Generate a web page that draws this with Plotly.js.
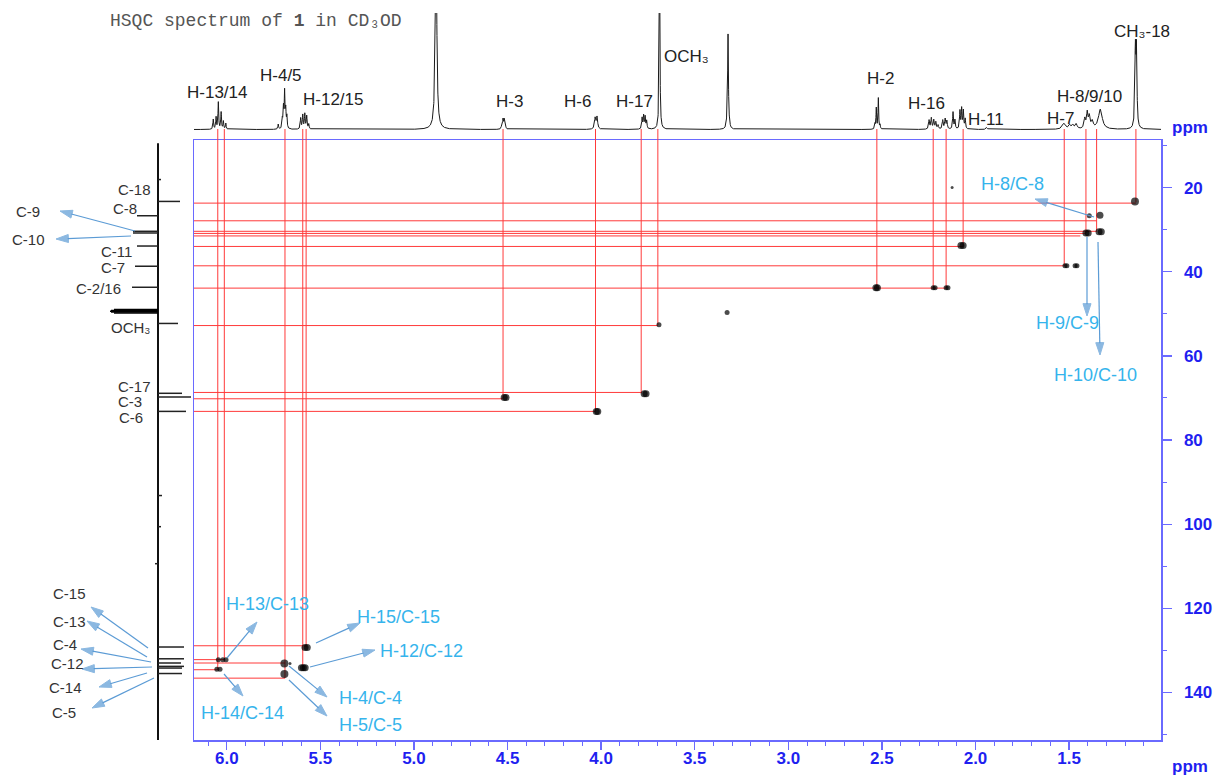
<!DOCTYPE html>
<html>
<head>
<meta charset="utf-8">
<script src="https://cdn.plot.ly/plotly-3.0.1.min.js"></script>
<style>
  html, body { margin: 0; padding: 0; background: #fff; }
  #chart { width: 1215px; height: 778px; }
</style>
</head>
<body>
<div id="chart"></div>
<script>
// ---------- 1H spectrum (top trace): peak list ----------
// chemical shift (ppm), peak height, half-width at half-height (ppm)
const hPeakShift = [
  6.072, 6.057, 6.045, 6.030, 6.018, 6.005,          // H-13/14
  5.725, 5.703, 5.697, 5.691, 5.685, 5.679,          // H-4/5
  5.605, 5.594, 5.583, 5.573, 5.562,                 // H-12/15
  4.882,                                             // HDO
  4.530, 4.524, 4.518, 4.512,                        // H-3
  4.032, 4.022,                                      // H-6
  3.781, 3.773, 3.765, 3.757,                        // H-17
  3.688,                                             // OCH3
  3.330, 3.322, 3.314,                               // CD2HOD
  2.537, 2.530, 2.519, 2.510,                        // H-2
  2.248, 2.236, 2.223, 2.212, 2.200, 2.175, 2.162, 2.153, // H-16
  2.120, 2.110, 2.083, 2.074, 2.065, 2.055,          // H-11 region
  1.941,                                             // H-11
  1.527, 1.497, 1.480, 1.462,                        // H-7
  1.416, 1.403, 1.392, 1.376, 1.333,                 // H-8/9/10
  1.146, 1.140                                       // CH3-18
];
const hPeakHeight = [
  10, 12, 27, 17, 8, 6,
  5, 10, 20, 36, 18, 12,
  11, 14, 15, 13, 5,
  210,
  6, 9, 9, 5,
  11, 12,
  11, 13, 12, 8,
  190,
  3, 95, 3,
  5, 21, 31, 4,
  9, 11, 9, 7, 4, 9, 10, 8,
  17, 9, 18, 20, 18, 10,
  2,
  6, 4, 4, 5,
  10, 15, 12, 7, 20,
  75, 75
];
const hPeakWidth = [
  0.0022, 0.0022, 0.0022, 0.0022, 0.0022, 0.0022,
  0.0022, 0.0022, 0.0022, 0.0022, 0.0022, 0.0022,
  0.0025, 0.0025, 0.0025, 0.0025, 0.0025,
  0.0045,
  0.0025, 0.0025, 0.0025, 0.0025,
  0.004, 0.004,
  0.0025, 0.0025, 0.0025, 0.0025,
  0.0022,
  0.0025, 0.0025, 0.0025,
  0.002, 0.002, 0.002, 0.002,
  0.003, 0.003, 0.003, 0.003, 0.003, 0.003, 0.003, 0.003,
  0.0025, 0.0025, 0.0025, 0.0025, 0.0025, 0.0025,
  0.004,
  0.010, 0.006, 0.006, 0.006,
  0.005, 0.004, 0.005, 0.006, 0.012,
  0.003, 0.003
];

// ---------- 13C (DEPT) projection on the left ----------
// shift (ppm) and signed intensity (CH/CH3 positive, CH2 negative)
const cProjShift  = [18.1, 23.3, 26.7, 30.4, 30.8, 33.9, 38.7, 43.7, 52.3,
                     68.9, 69.8, 73.2, 93.2, 100.6, 109.4,
                     129.2, 132.0, 133.0, 133.8, 134.2, 135.5];
const cProjHeight = [3, 22, -21, -25, -25, -21, -23, -26, 20,
                     24, 33, 28, 4, 3, -3,
                     26, 26, 23, 26, 24, 24];
// CD3OD septet
const cSolvShift  = [49.0, 49.2, 49.4, 49.6, 49.8];
const cSolvHeight = [-44, -47, -48, -47, -44];

// ---------- HSQC cross peaks ----------
const xpkH = [1.148, 1.392, 1.335, 1.410, 1.398, 1.340, 1.328,
              1.522, 1.512, 1.468, 1.458, 2.078, 2.066,
              2.226, 2.216, 2.157, 2.147, 2.532, 2.524,
              3.327, 3.691, 3.770, 3.760, 4.518, 4.508, 4.026, 4.018, 2.125,
              6.045, 6.021, 6.004, 6.053, 6.036,
              5.692, 5.662, 5.692, 5.582, 5.570, 5.601, 5.591, 5.581];
const xpkC = [23.3, 26.7, 26.6, 30.8, 30.8, 30.5, 30.5,
              38.6, 38.6, 38.6, 38.6, 33.8, 33.8,
              43.8, 43.8, 43.8, 43.8, 43.8, 43.8,
              49.7, 52.6, 69.0, 69.0, 69.9, 69.9, 73.2, 73.2, 20.0,
              132.2, 132.2, 132.2, 134.5, 134.5,
              133.1, 133.1, 135.6, 129.3, 129.3, 134.1, 134.1, 134.1];
// contour level (1 = weakest)
const xpkLevel = [4, 2, 3, 3, 3, 3, 3,
                  2, 2, 2, 2, 3, 3,
                  2, 2, 2, 2, 3, 3,
                  2, 2, 3, 3, 3, 3, 3, 3, 1,
                  2, 2, 2, 2, 2,
                  4, 1, 4, 3, 3, 3, 3, 3];

// correlation guide lines: 1H column (ppm) and the 13C shift it runs down to
const colH = [6.048, 6.013, 5.689, 5.594, 5.576, 4.524, 4.030, 3.786, 3.697,
              2.527, 2.226, 2.157, 2.066, 1.526, 1.410, 1.353, 1.143];
const colC = [134.6, 132.2, 136.6, 134.1, 129.3, 70.0, 73.2, 68.9, 52.7,
              43.9, 43.9, 43.9, 34.0, 38.6, 30.8, 30.5, 23.5];
// 13C rows (ppm) and the 1H shift each row runs to
const rowC = [23.7, 27.9, 30.4, 30.9, 31.5, 34.0, 38.6, 43.9, 52.8,
              68.7, 70.2, 73.2, 128.9, 132.2, 133.0, 134.6, 136.6];
const rowH = [1.143, 1.353, 1.353, 1.410, 1.440, 2.066, 1.526, 2.157, 3.697,
              3.786, 4.524, 4.030, 5.576, 6.013, 5.689, 6.048, 5.689];

// axis ticks
const xTickVals = [6.0, 5.5, 5.0, 4.5, 4.0, 3.5, 3.0, 2.5, 2.0, 1.5];
const yTickVals = [20, 40, 60, 80, 100, 120, 140];

// ---------- geometry ----------
const W = 1215, H = 778;
const px = x => x / W;
const py = y => 1 - y / H;
const X_RANGE = [6.175, 1.009];
const Y_RANGE = [151.3, 8.7];
const SPEC_RANGE = [-10.5, 116.5];
const PROJ_RANGE = [-62, 35];

const BLUE = '#1f1ff0';
const BOX = '#6a6aff';
const RED = '#ff3a3a';
const ARROW = '#5b9bd5';
const SANS = 'Liberation Sans, Arial, DejaVu Sans, sans-serif';

const traces = [];

// 1H spectrum line as a sum of Lorentzian lines
const specX = [], specY = [];
for (let x = X_RANGE[1]; x <= X_RANGE[0]; x += 0.0005) {
  let s = 0;
  for (let i = 0; i < hPeakShift.length; i++) {
    const d = x - hPeakShift[i], w = hPeakWidth[i];
    s += hPeakHeight[i] * w * w / (d * d + w * w);
  }
  specX.push(x); specY.push(s);
}
traces.push({x: specX, y: specY, xaxis: 'x', yaxis: 'y2', type: 'scatter', mode: 'lines',
  line: {color: '#1a1a1a', width: 1}, hoverinfo: 'skip'});

// 13C projection: baseline plus sticks
traces.push({x: [0, 0], y: [9.5, Y_RANGE[0]], xaxis: 'x2', yaxis: 'y', type: 'scatter', mode: 'lines',
  line: {color: '#111', width: 2}, hoverinfo: 'skip'});
function sticks(shifts, heights) {
  const xs = [], ys = [];
  shifts.forEach((c, i) => { xs.push(0, heights[i], null); ys.push(c, c, null); });
  return {xs, ys};
}
const pk = sticks(cProjShift, cProjHeight);
traces.push({x: pk.xs, y: pk.ys, xaxis: 'x2', yaxis: 'y', type: 'scatter', mode: 'lines',
  line: {color: '#222', width: 1.5}, hoverinfo: 'skip'});
const sv = sticks(cSolvShift, cSolvHeight);
traces.push({x: sv.xs, y: sv.ys, xaxis: 'x2', yaxis: 'y', type: 'scatter', mode: 'lines',
  line: {color: '#000', width: 1.5}, hoverinfo: 'skip'});

// red guide lines: columns (main panel + under the 1H trace) and rows
const vX = [], vY = [], sX = [], sY = [];
colH.forEach((h, i) => {
  vX.push(h, h, null); vY.push(Y_RANGE[1], colC[i], null);
  sX.push(h, h, null); sY.push(SPEC_RANGE[0], 0.5, null);
});
traces.push({x: vX, y: vY, xaxis: 'x', yaxis: 'y', type: 'scatter', mode: 'lines',
  line: {color: RED, width: 1}, hoverinfo: 'skip'});
traces.push({x: sX, y: sY, xaxis: 'x', yaxis: 'y2', type: 'scatter', mode: 'lines',
  line: {color: RED, width: 1}, hoverinfo: 'skip'});
const rX = [], rY = [];
rowC.forEach((c, i) => { rX.push(X_RANGE[0], rowH[i], null); rY.push(c, c, null); });
traces.push({x: rX, y: rY, xaxis: 'x', yaxis: 'y', type: 'scatter', mode: 'lines',
  line: {color: RED, width: 1}, hoverinfo: 'skip'});

// cross peaks
const levelSize = {1: 3, 2: 5, 3: 7, 4: 8};
traces.push({x: xpkH, y: xpkC, xaxis: 'x', yaxis: 'y', type: 'scatter', mode: 'markers',
  marker: {color: '#000', size: xpkLevel.map(l => levelSize[l]), line: {width: 0}},
  hoverinfo: 'skip'});

// pointer arrows, drawn on a full-page overlay measured in pixels
const pointers = [
  [135, 231, 60, 211], [131, 236, 56, 239],
  [148, 648, 91, 607], [147, 657, 87, 621], [151, 662, 81, 649],
  [152, 667, 82, 669], [147, 673, 99, 687], [154, 678, 92, 708],
  [227, 658, 257, 622], [316, 643, 360, 623], [310, 667, 375, 650],
  [289, 666, 327, 697], [289, 680, 327, 716], [224, 674, 243, 696],
  [1094, 217, 1035, 199], [1087, 237, 1087, 316], [1098, 242, 1100, 355]
];
pointers.forEach(p => {
  traces.push({x: [p[0], p[2]], y: [p[1], p[3]], xaxis: 'x3', yaxis: 'y3',
    type: 'scatter', mode: 'lines+markers', cliponaxis: false,
    line: {color: ARROW, width: 1.2},
    marker: {symbol: 'arrow', size: [0, 13], angleref: 'previous', color: ARROW,
             line: {width: 1, color: ARROW}},
    hoverinfo: 'skip'});
});

// ---------- text ----------
const annotations = [];
function label(text, x, y, font) {
  annotations.push({text, x: px(x), y: py(y), xref: 'paper', yref: 'paper',
    xanchor: 'center', yanchor: 'middle', showarrow: false, font});
}
const specFont = {family: SANS, size: 17, color: '#222'};
const leftFont = {family: SANS, size: 15, color: '#333'};
const blueFont = {family: SANS, size: 18, color: '#35b4ec'};
const axisFont = {family: SANS, size: 17, color: BLUE, weight: 'bold'};

annotations.push({text: 'HSQC spectrum of <b>1</b> in CD₃OD', x: px(108), y: py(21),
  xref: 'paper', yref: 'paper', xanchor: 'left', yanchor: 'middle', showarrow: false,
  font: {family: 'Liberation Mono, Courier New, DejaVu Sans Mono, monospace', size: 18, color: '#555'}});

label('H-13/14', 217, 92, specFont);
label('H-4/5', 281, 75, specFont);
label('H-12/15', 333, 100, specFont);
label('H-3', 509, 102, specFont);
label('H-6', 577, 102, specFont);
label('H-17', 634, 102, specFont);
label('OCH₃', 686, 56, specFont);
label('H-2', 880, 78, specFont);
label('H-16', 926, 104, specFont);
label('H-11', 986, 120, specFont);
label('H-7', 1060, 118, specFont);
label('H-8/9/10', 1089, 96, specFont);
label('CH₃-18', 1142, 31, specFont);

label('C-18', 134, 189, leftFont);
label('C-8', 125, 209, leftFont);
label('C-9', 28, 211, leftFont);
label('C-10', 28, 239, leftFont);
label('C-11', 116, 251, leftFont);
label('C-7', 113, 267, leftFont);
label('C-2/16', 98, 288, leftFont);
label('OCH₃', 130, 327, leftFont);
label('C-17', 134, 386, leftFont);
label('C-3', 130, 401, leftFont);
label('C-6', 131, 417, leftFont);
label('C-15', 69, 593, leftFont);
label('C-13', 69, 621, leftFont);
label('C-4', 65, 644, leftFont);
label('C-12', 67, 663, leftFont);
label('C-14', 65, 687, leftFont);
label('C-5', 64, 712, leftFont);

label('H-8/C-8', 1012, 184, blueFont);
label('H-9/C-9', 1067, 323, blueFont);
label('H-10/C-10', 1095, 375, blueFont);
label('H-13/C-13', 267, 604, blueFont);
label('H-15/C-15', 398, 617, blueFont);
label('H-12/C-12', 421, 651, blueFont);
label('H-4/C-4', 370, 698, blueFont);
label('H-5/C-5', 370, 725, blueFont);
label('H-14/C-14', 242, 713, blueFont);

label('ppm', 1190, 127, axisFont);
label('ppm', 1190, 766, axisFont);

const layout = {
  width: W, height: H,
  margin: {l: 0, r: 0, t: 0, b: 0, pad: 0},
  paper_bgcolor: '#fff', plot_bgcolor: 'rgba(0,0,0,0)',
  showlegend: false,
  xaxis: {
    domain: [px(194), px(1161)], range: X_RANGE, anchor: 'y',
    tickvals: xTickVals, tickformat: '.1f',
    ticks: 'outside', ticklen: 8, tickwidth: 1.3, tickcolor: BOX,
    minor: {dtick: 0.1, tick0: 0, ticks: 'outside', ticklen: 4, tickwidth: 1, tickcolor: BOX, showgrid: false},
    showline: true, linecolor: BOX, linewidth: 1.5, mirror: true,
    showgrid: false, zeroline: false, tickfont: axisFont, ticklabelstandoff: -6
  },
  yaxis: {
    domain: [py(740), py(140)], range: Y_RANGE, anchor: 'x', side: 'right',
    tickvals: yTickVals,
    ticks: 'outside', ticklen: 9, tickwidth: 1.3, tickcolor: BOX,
    minor: {dtick: 10, tick0: 0, ticks: 'outside', ticklen: 4, tickwidth: 1, tickcolor: BOX, showgrid: false},
    showline: true, linecolor: BOX, linewidth: 1.5, mirror: true,
    showgrid: false, zeroline: false, tickfont: axisFont, ticklabelstandoff: 9
  },
  yaxis2: {
    domain: [py(140), py(13)], range: SPEC_RANGE, anchor: 'x', visible: false
  },
  xaxis2: {
    domain: [px(96), px(193)], range: PROJ_RANGE, anchor: 'y', visible: false
  },
  xaxis3: {domain: [0, 1], range: [0, W], anchor: 'y3', visible: false},
  yaxis3: {domain: [0, 1], range: [H, 0], anchor: 'x3', visible: false},
  annotations
};

Plotly.newPlot('chart', traces, layout, {staticPlot: true, displayModeBar: false});
</script>
</body>
</html>
